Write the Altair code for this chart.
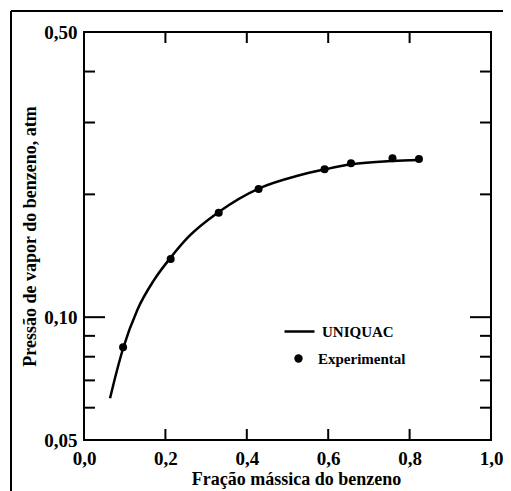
import altair as alt
import pandas as pd

# UNIQUAC curve
curve_x = [0.064, 0.080, 0.096, 0.131, 0.172, 0.214, 0.257, 0.331, 0.429, 0.527, 0.591, 0.656, 0.758, 0.823]
curve_y = [0.0633, 0.0734, 0.0838, 0.1042, 0.1233, 0.1404, 0.1575, 0.1811, 0.2067, 0.2225, 0.2302, 0.2370, 0.2415, 0.2428]

# Experimental points
exp_x = [0.096, 0.213, 0.331, 0.429, 0.591, 0.656, 0.758, 0.823]
exp_y = [0.0844, 0.1389, 0.1803, 0.2061, 0.2304, 0.2383, 0.2451, 0.2442]

line_name = "UNIQUAC"
points_name = "Experimental"

y_label_values = [0.05, 0.10, 0.50]
y_minor_ticks = [0.06, 0.07, 0.08, 0.09, 0.20, 0.30, 0.40]
y_major_ticks = [0.10]
x_ticks = [0.2, 0.4, 0.6, 0.8]
x_label_values = [0.0, 0.2, 0.4, 0.6, 0.8, 1.0]

W, H = 407, 408
PL, PT = 76, 24
FONT = "Liberation Serif"

df_curve = pd.DataFrame({"x": curve_x, "y": curve_y, "serie": [line_name] * len(curve_x)})
df_exp = pd.DataFrame({"x": exp_x, "y": exp_y, "serie": [points_name] * len(exp_x)})
df_yminor = pd.DataFrame({"y": y_minor_ticks})
df_ymajor = pd.DataFrame({"y": y_major_ticks})
df_xt = pd.DataFrame({"x": x_ticks})
df_dummy = pd.DataFrame({"a": [0]})

xs = alt.Scale(domain=[0, 1], nice=False, zero=False)
ys = alt.Scale(type="log", domain=[0.05, 0.5], nice=False)

xaxis = alt.Axis(
    title="Fração mássica do benzeno", values=x_label_values,
    labelExpr="replace(format(datum.value, '.1f'), '.', ',')",
    ticks=False, tickSize=0, domain=False, grid=False,
    labelFont=FONT, labelFontWeight="bold", labelFontSize=19, labelColor="black",
    labelPadding=9, labelFlush=False, labelOverlap=False,
    titleFont=FONT, titleFontWeight="bold", titleFontSize=18, titleColor="black",
    titlePadding=2, titleX=212,
)
yaxis = alt.Axis(
    title="Pressão de vapor do benzeno, atm", values=y_label_values,
    labelExpr="replace(format(datum.value, '.2f'), '.', ',')",
    ticks=False, tickSize=0, domain=False, grid=False,
    labelFont=FONT, labelFontWeight="bold", labelFontSize=19, labelColor="black",
    labelPadding=7, labelFlush=False, labelOverlap=False,
    titleFont=FONT, titleFontWeight="bold", titleFontSize=18, titleColor="black",
    titlePadding=4,
)

X = alt.X("x:Q", scale=xs, axis=xaxis)
Y = alt.Y("y:Q", scale=ys, axis=yaxis)

leg_common = dict(
    orient="none", title=None,
    labelFont=FONT, labelFontWeight="bold", labelFontSize=15, labelColor="black",
    padding=0,
)

line = alt.Chart(df_curve).mark_line(strokeWidth=2.5, interpolate="monotone").encode(
    x=X, y=Y,
    color=alt.Color("serie:N", scale=alt.Scale(domain=[line_name], range=["black"]),
                    legend=alt.Legend(legendX=283 - 8 - PL, legendY=315 - 8 - PT,
                                      symbolType="stroke", symbolSize=900, symbolStrokeWidth=2.5,
                                      labelOffset=6, **leg_common)),
)

points = alt.Chart(df_exp).mark_point(filled=True, color="black", opacity=1, size=64).encode(
    x=X, y=Y,
    shape=alt.Shape("serie:N", scale=alt.Scale(domain=[points_name], range=["circle"]),
                    legend=alt.Legend(legendX=291 - 8 - PL, legendY=351 - 8 - PT,
                                      symbolSize=70, symbolFillColor="black", symbolStrokeWidth=0,
                                      labelOffset=12, **leg_common)),
)

tick_style = dict(color="black", strokeWidth=2)
yl_minor = alt.Chart(df_yminor).mark_rule(**tick_style).encode(y=Y, x=alt.value(0), x2=alt.value(11))
yr_minor = alt.Chart(df_yminor).mark_rule(**tick_style).encode(y=Y, x=alt.value(W - 11), x2=alt.value(W))
yl_major = alt.Chart(df_ymajor).mark_rule(**tick_style).encode(y=Y, x=alt.value(0), x2=alt.value(21))
yr_major = alt.Chart(df_ymajor).mark_rule(**tick_style).encode(y=Y, x=alt.value(W - 21), x2=alt.value(W))
xb = alt.Chart(df_xt).mark_rule(**tick_style).encode(x=X, y=alt.value(H - 11), y2=alt.value(H))
xt = alt.Chart(df_xt).mark_rule(**tick_style).encode(x=X, y=alt.value(0), y2=alt.value(11))

bx = 11 - 8 - PL
by = 11 - 8 - PT
border_top = alt.Chart(df_dummy).mark_rule(color="black", strokeWidth=2).encode(
    x=alt.value(bx), x2=alt.value(W + 40), y=alt.value(by))
border_left = alt.Chart(df_dummy).mark_rule(color="black", strokeWidth=2).encode(
    x=alt.value(bx), y=alt.value(by), y2=alt.value(H + 60))

chart = alt.layer(
    border_top, border_left,
    yl_minor, yr_minor, yl_major, yr_major, xb, xt,
    line, points,
).resolve_legend(color="independent", shape="independent").properties(
    width=W, height=H,
    autosize=alt.AutoSizeParams(type="none"),
    padding={"left": PL, "top": PT, "right": 12, "bottom": 51},
    background="white",
).configure_view(stroke="black", strokeWidth=2)

chart.save("out.html", embed_options={"renderer": "svg", "actions": False})
